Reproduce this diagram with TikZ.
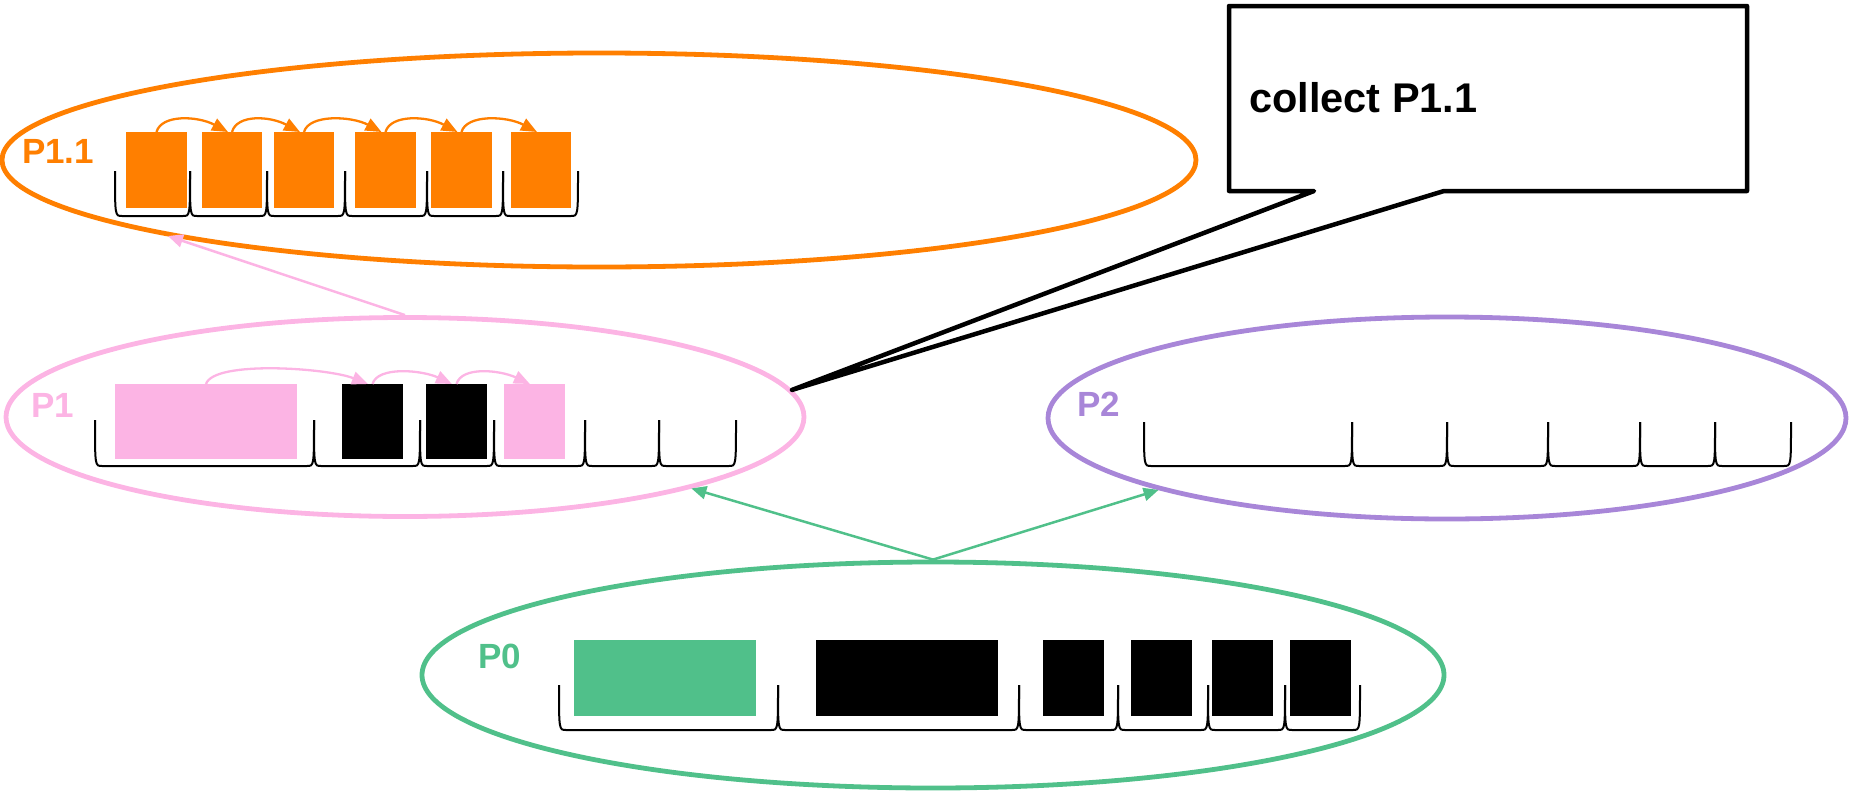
\documentclass[tikz,border=0pt]{standalone}
\usepackage{fontspec}
\setmainfont{Liberation Sans}
\usetikzlibrary{shapes.geometric,arrows.meta}
\definecolor{porange}{RGB}{255,127,0}
\definecolor{ppink}{RGB}{252,180,228}
\definecolor{ppurple}{RGB}{168,134,216}
\definecolor{pgreen}{RGB}{80,192,138}

% a filled memory block: name, left, top, right, bottom, colour
\newcommand\memblock[6]{%
  \node[blk,fill=#6,minimum width={#4-#2},minimum height={#5-#3}] (#1) at (#2,#3) {};}
% a row of slot brackets: list of left/right pairs, top, bottom
\newcommand\slotrow[3]{%
  \foreach \a/\b in {#1} {
    \draw[brk] (\a,#2) .. controls (\a,#3) and (\a,#3) .. (\a+7,#3)
      -- (\b-7,#3) .. controls (\b,#3) and (\b,#3) .. (\b,#2);
  }}

\begin{document}
\begin{tikzpicture}[x=1pt,y=-1pt,
  region/.style={ellipse,draw,line width=4.8pt,inner sep=0pt},
  plabel/.style={font=\fontsize{35}{42}\selectfont\bfseries,inner sep=0pt},
  blk/.style={draw=none,inner sep=0pt,outer sep=0pt,anchor=north west},
  brk/.style={line width=2pt,black},
  hop/.style={line width=2.3pt,-{Triangle[length=16pt,width=13pt]}},
  link/.style={line width=2.5pt,-{Triangle[length=15pt,width=13pt]}}]
\useasboundingbox (0,0) rectangle (1853,790);

% regions
\node[region,draw=porange,minimum width=1194,minimum height=214] (p11) at (599,160) {};
\node[region,draw=ppink,minimum width=798,minimum height=199] (p1) at (405,417) {};
\node[region,draw=ppurple,minimum width=798,minimum height=202] (p2) at (1447,418) {};
\node[region,draw=pgreen,minimum width=1022,minimum height=226] (p0) at (933,675) {};

% labels
\node[plabel,text=porange] (l11) at (58,151) {P1.1};
\node[plabel,text=ppink] (l1) at (53,405) {P1};
\node[plabel,text=ppurple] (l2) at (1099,404) {P2};
\node[plabel,text=pgreen] (l0) at (500,656) {P0};

% P1.1 contents
\slotrow{115/190,190/267,267/345,345/427,427/503,503/578}{171}{216}
\memblock{a1}{126}{132}{187}{208}{porange}
\memblock{a2}{202}{132}{262}{208}{porange}
\memblock{a3}{274}{132}{334}{208}{porange}
\memblock{a4}{355}{132}{416}{208}{porange}
\memblock{a5}{431}{132}{492}{208}{porange}
\memblock{a6}{511}{132}{571}{208}{porange}
\foreach \i/\j in {a1/a2,a2/a3,a3/a4,a4/a5,a5/a6}
  \draw[hop,porange] (\i.north) .. controls +(5,-18) and +(-30,-16) .. (\j.96);

% P1 contents
\slotrow{95/314,314/420,420/494,494/585,585/659,659/736}{420}{466}
\memblock{b1}{115}{384}{297}{459}{ppink}
\memblock{b2}{342}{384}{403}{459}{black}
\memblock{b3}{426}{384}{487}{459}{black}
\memblock{b4}{504}{384}{565}{459}{ppink}
\draw[hop,ppink] (b1.north) .. controls +(8,-24) and +(-40,-16) .. (b2.97);
\draw[hop,ppink] (b2.north) .. controls +(5,-18) and +(-30,-14) .. (b3.97);
\draw[hop,ppink] (b3.north) .. controls +(5,-18) and +(-30,-14) .. (b4.97);

% P2 contents
\slotrow{1144/1352,1352/1447,1447/1548,1548/1640,1640/1715,1715/1791}{422}{466}

% P0 contents
\slotrow{559/778,778/1019,1019/1118,1118/1208,1208/1285,1285/1360}{685}{730}
\memblock{c1}{574}{640}{756}{716}{pgreen}
\memblock{c2}{816}{640}{998}{716}{black}
\memblock{c3}{1043}{640}{1104}{716}{black}
\memblock{c4}{1131}{640}{1192}{716}{black}
\memblock{c5}{1212}{640}{1273}{716}{black}
\memblock{c6}{1290}{640}{1351}{716}{black}

% region links
\draw[link,ppink] (p1.north) -- (p11.190.8);
\draw[link,pgreen] (p0.north) -- (p1.-14.6);
\draw[link,pgreen] (p0.north) -- (p2.194.8);

% callout
\draw[line width=4.5pt,line join=round,fill=white]
  (1229,6) -- (1747,6) -- (1747,191) -- (1444,191) -- (p1.4.7)
  -- (1314,191) -- (1229,191) -- cycle;
\node[anchor=west,inner sep=0pt,font=\fontsize{41.5}{50}\selectfont\bfseries] (note) at (1249,98) {collect P1.1};
\end{tikzpicture}
\end{document}
